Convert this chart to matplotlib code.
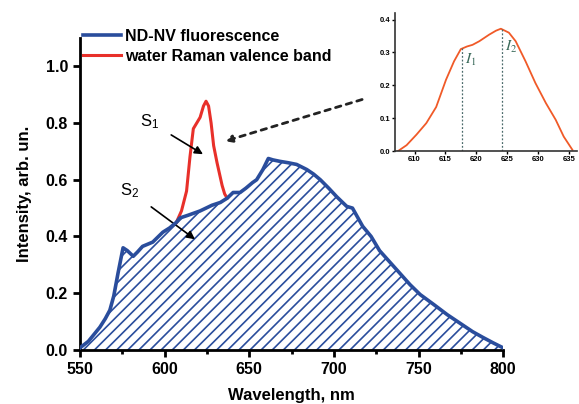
import numpy as np
import matplotlib.pyplot as plt

# ── data ─────────────────────────────────────────────────────────────────────
nv_wl = [550, 555, 561.8, 565, 567.7, 570, 572.5, 575.5, 578, 581.5, 584, 587,
         593, 599, 603, 607, 609, 614, 621, 628, 633, 637, 640.5, 644.6, 648,
         652, 654.4, 658, 661.3, 664, 668, 673, 678, 684, 688, 692, 697, 701.7,
         707.6, 711, 717, 722, 727, 733, 739, 745, 751, 759, 767, 775, 782,
         788, 794, 800]
nv_int = [0.007, 0.03, 0.08, 0.11, 0.14, 0.19, 0.27, 0.36, 0.35, 0.33, 0.345,
          0.365, 0.38, 0.415, 0.43, 0.45, 0.465, 0.475, 0.49, 0.51, 0.52,
          0.535, 0.555, 0.555, 0.57, 0.59, 0.60, 0.635, 0.675, 0.67, 0.665,
          0.66, 0.654, 0.636, 0.62, 0.60, 0.57, 0.54, 0.506, 0.50, 0.436,
          0.40, 0.35, 0.31, 0.27, 0.23, 0.195, 0.16, 0.124, 0.092, 0.064,
          0.044, 0.025, 0.007]

raman_wl = [607, 610, 613, 615, 617, 619, 621, 623, 624.5, 626, 627.5, 629,
            631, 632.5, 634, 635.5, 637]
raman_int = [0.45, 0.49, 0.56, 0.68, 0.78, 0.80, 0.82, 0.86, 0.877, 0.86,
             0.80, 0.72, 0.66, 0.62, 0.58, 0.55, 0.535]

inset_wl = [607.3, 608.7, 610.3, 611.9, 613.5, 615.1, 616.4, 617.5, 618.5,
            619.4, 620.5, 622.1, 623.2, 624.0, 625.3, 626.4, 628.0, 629.6,
            631.3, 632.9, 634.2, 635.6]
inset_int = [0.0, 0.018, 0.05, 0.085, 0.134, 0.217, 0.273, 0.31, 0.318,
             0.323, 0.334, 0.354, 0.366, 0.372, 0.36, 0.334, 0.273, 0.207,
             0.146, 0.095, 0.044, 0.004]
i1_wl, i1_val = 617.7, 0.312
i2_wl, i2_val = 624.2, 0.372

BLUE = "#2a4d9c"
RED = "#e8302a"
ORANGE = "#f05a28"

plt.rcParams["font.family"] = ["Liberation Sans", "DejaVu Sans"]
plt.rcParams["mathtext.fontset"] = "stix"
plt.rcParams["hatch.color"] = BLUE
plt.rcParams["hatch.linewidth"] = 1.2

# ── figure ───────────────────────────────────────────────────────────────────
fig = plt.figure(figsize=(5.79, 4.04), dpi=100)
ax = fig.add_axes([0.138, 0.134, 0.731, 0.772])

ax.fill_between(nv_wl, 0, nv_int, facecolor="none", edgecolor=BLUE,
                hatch="///", linewidth=0)
ax.plot(raman_wl, raman_int, color=RED, lw=2.2, label="water Raman valence band",
        zorder=3)
ax.plot(nv_wl, nv_int, color=BLUE, lw=2.6, label="ND-NV fluorescence", zorder=4)

ax.set_xlim(550, 800)
ax.set_ylim(0, 1.1)
ax.set_xticks([550, 600, 650, 700, 750, 800])
ax.set_xticks([575, 625, 675, 725, 775], minor=True)
ax.set_yticks([0.0, 0.2, 0.4, 0.6, 0.8, 1.0])
ax.set_yticklabels(["0.0", "0.2", "0.4", "0.6", "0.8", "1.0"])
for s in ["top", "right"]:
    ax.spines[s].set_visible(False)
for s in ["left", "bottom"]:
    ax.spines[s].set_linewidth(2)
ax.tick_params(which="major", width=2, length=5, labelsize=11.5)
ax.tick_params(which="minor", width=2, length=3)
for lab in ax.get_xticklabels() + ax.get_yticklabels():
    lab.set_fontweight("bold")
ax.set_xlabel("Wavelength, nm", fontsize=12, fontweight="bold", labelpad=8)
ax.set_ylabel("Intensity, arb. un.", fontsize=12, fontweight="bold", labelpad=10)

h, l = ax.get_legend_handles_labels()
leg = fig.legend(h[::-1], l[::-1], loc="upper left",
                 bbox_to_anchor=(0.143, 0.928), frameon=False,
                 prop={"weight": "bold", "size": 11.5}, handlelength=2.4,
                 handletextpad=0.25, labelspacing=0.3, borderaxespad=0,
                 borderpad=0)

# annotations
ax.annotate(r"S$_\mathregular{1}$", xy=(622.7, 0.69), xytext=(591, 0.805),
            fontsize=12, ha="center", va="center",
            arrowprops=dict(arrowstyle="-|>", color="black", lw=1.2,
                            shrinkA=8, shrinkB=0))
ax.annotate(r"S$_\mathregular{2}$", xy=(618, 0.39), xytext=(579.5, 0.56),
            fontsize=12, ha="center", va="center",
            arrowprops=dict(arrowstyle="-|>", color="black", lw=1.2,
                            shrinkA=8, shrinkB=0))
ax.annotate("", xy=(635.7, 0.736), xytext=(716.7, 0.883),
            arrowprops=dict(arrowstyle="-|>", color="#222222", lw=2,
                            linestyle=(0, (2, 2)), shrinkA=0, shrinkB=0))

# ── inset ────────────────────────────────────────────────────────────────────
ins = fig.add_axes([0.682, 0.626, 0.314, 0.342])
ins.plot(inset_wl, inset_int, color=ORANGE, lw=1.3)
ins.vlines([i1_wl, i2_wl], 0, [i1_val, i2_val], colors="#4a6a6a",
           linestyles=(0, (1.5, 1.5)), lw=0.9)
ins.text(i1_wl + 0.4, 0.278, "$I_1$", fontsize=11, color="#3a6a5a",
         va="center")
ins.text(i2_wl + 0.4, 0.318, "$I_2$", fontsize=11, color="#3a6a5a",
         va="center")
ins.set_xlim(606.8, 636.3)
ins.set_ylim(0, 0.42)
ins.set_xticks([610, 615, 620, 625, 630, 635])
ins.set_yticks([0.0, 0.1, 0.2, 0.3, 0.4])
ins.set_yticklabels(["0.0", "0.1", "0.2", "0.3", "0.4"])
for s in ["top", "right"]:
    ins.spines[s].set_visible(False)
for s in ["left", "bottom"]:
    ins.spines[s].set_linewidth(1.2)
    ins.spines[s].set_color("#333333")
ins.tick_params(labelsize=5.5, length=2, width=1, pad=1.5)
for lab in ins.get_xticklabels() + ins.get_yticklabels():
    lab.set_fontweight("bold")
ins.patch.set_alpha(0)

fig.savefig("out.png", dpi=100)
